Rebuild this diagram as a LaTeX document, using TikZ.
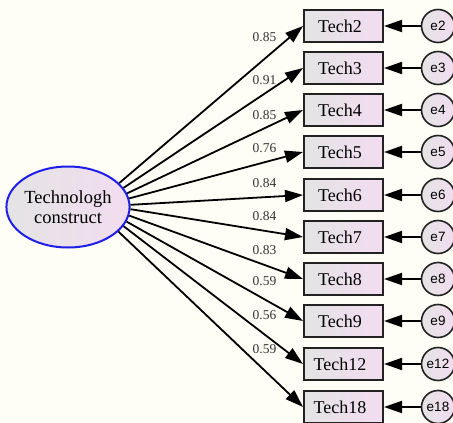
\documentclass[tikz,border=0pt]{standalone}
\usepackage{fontspec}
\setmainfont{Liberation Serif}
\newfontfamily\sansf{Liberation Sans}
\usetikzlibrary{arrows.meta,shapes.geometric}
\definecolor{bg}{HTML}{FEFEF6}
\definecolor{fl}{HTML}{E4E4E4}
\definecolor{fr}{HTML}{F2DCF0}
\definecolor{bd}{HTML}{222222}
\definecolor{ellb}{HTML}{1E1EE6}
\begin{document}
\begin{tikzpicture}[x=1pt,y=-1pt,
  obs/.style={draw=bd,line width=2pt,left color=fl,right color=fr,
    minimum width=79pt,minimum height=32pt,inner sep=0pt,
    font=\fontsize{18}{20}\selectfont},
  err/.style={circle,draw=bd,line width=1.6pt,left color=fl,right color=fr,
    minimum size=33pt,inner sep=0pt,font=\sansf\fontsize{13.5}{14}\selectfont},
  lat/.style={ellipse,draw=ellb,line width=2pt,left color=fl,right color=fr,
    minimum width=120pt,minimum height=81pt,inner sep=0pt,align=center,
    font=\fontsize{18.5}{20}\selectfont},
  arr/.style={-{Triangle[length=18pt,width=12pt]},line width=1.8pt,black},
  coef/.style={font=\fontsize{13.5}{14}\selectfont,text=black!80,inner sep=0pt}
]
\fill[bg] (0,0) rectangle (453,423);
\useasboundingbox (0,0) rectangle (453,423);
\node[lat] (tc) at (68,207) {Technologh\\construct};
\foreach \n/\y/\a/\v/\ly in {2/26/25/0.85/37, 3/68/19.3/0.91/80, 4/110/13.7/0.85/115,
  5/152/8/0.76/148, 6/195/2.5/0.84/183, 7/237/-2.5/0.84/216, 8/279/-8.5/0.83/250,
  9/321/-14/0.59/281, 12/364/-19.7/0.56/315, 18/407/-26/0.59/349}{
  \node[obs] (t\n) at (343.5,\y) {Tech\n\hspace*{7pt}};
  \node[err] (e\n) at (438,\y) {e\n};
  \node[coef] (c\n) at (264.5,\ly) {\v};
  \draw[arr] (tc.\a) -- (t\n.west);
  \draw[arr] (e\n.west) -- (t\n.east);
}
\end{tikzpicture}
\end{document}
